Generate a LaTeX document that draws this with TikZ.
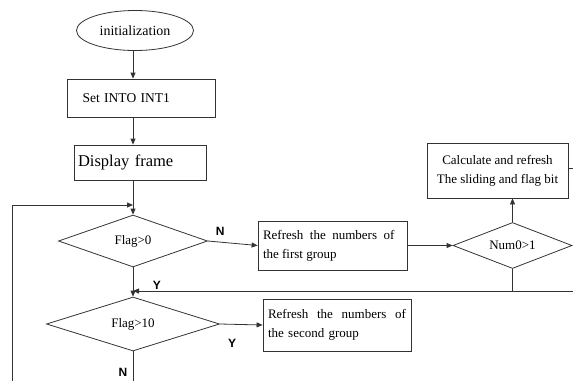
\documentclass[tikz,border=0pt]{standalone}
\usepackage{fontspec}
\setmainfont{Liberation Serif}
\newfontfamily\labfont{Liberation Sans}
\usetikzlibrary{shapes.geometric,arrows.meta}
\begin{document}
\begin{tikzpicture}[x=1pt,y=-1pt,
  line/.style={draw=black!80,line width=0.8pt},
  arr/.style={line,-{Triangle[length=6pt,width=5pt]}},
  txt/.style={font=\fontsize{13}{19}\selectfont},
  boxnode/.style={line,rectangle,inner sep=0pt,txt},
  dec/.style={line,diamond,aspect=3,inner sep=0pt,txt},
  lab/.style={font=\labfont\bfseries\fontsize{12}{12}\selectfont,inner sep=0pt}
]
\useasboundingbox (0,0) rectangle (573,381);
% nodes
\node[line,ellipse,minimum width=117pt,minimum height=40pt,inner sep=0pt,font=\fontsize{14}{16}\selectfont] (init) at (135,30.5) {initialization};
\node[boxnode,minimum width=133pt,minimum height=38pt,text width=118pt,align=left,inner xsep=15pt,font=\fontsize{13.5}{16}\selectfont] (set) at (141.5,98) {Set INTO INT1};
\node[boxnode,minimum width=132pt,minimum height=35pt,text width=124pt,align=left,inner xsep=4pt,font=\fontsize{16.5}{19}\selectfont] (disp) at (140,162.5) {Display frame};
\node[dec,minimum width=149pt,minimum height=52pt] (f0) at (133,241) {Flag>0};
\node[boxnode,minimum width=149pt,minimum height=49pt,text width=139pt,align=justify,inner xsep=5pt] (b1) at (332.5,245.5) {Refresh\ \ the\ \ numbers\ \ of\\ the first group};
\node[dec,minimum width=119pt,minimum height=46pt] (num) at (512.5,245.5) {Num0>1};
\node[boxnode,minimum width=141pt,minimum height=55pt,align=center] (calc) at (497.5,170.5) {Calculate and refresh\\The sliding and flag bit};
\node[dec,minimum width=173pt,minimum height=54pt] (f10) at (133,324) {Flag>10};
\node[boxnode,minimum width=148pt,minimum height=52pt,text width=138pt,align=left,inner xsep=5pt] (b2) at (337,325) {Refresh\ \ the\ \ numbers\ \ of\\ the second group};
% coordinates
\coordinate (top) at (133,205);
\coordinate (loopA) at (12,381);
\coordinate (loopB) at (12,205);
\coordinate (join) at (133,291);
\coordinate (numdown) at (512.5,291);
\coordinate (rightend) at (573,291);
\coordinate (calcout) at (573,168);
\coordinate (bottom) at (133,381);
% connectors
\draw[arr] (init.south -| top) -- (set.north -| top);
\draw[arr] (set.south -| top) -- (disp.north -| top);
\draw[arr] (disp.south -| top) -- (f0.north);
\draw[arr] (loopA) -- (loopB) -- (top);
\draw[arr] (f0.east) -- (b1.west) node[lab,pos=0.25,above=6pt] {N};
\draw[arr] (b1.east) -- (num.west);
\draw[arr] (num.north) -- (num.north |- calc.south);
\draw[line] (calc.east |- calcout) -- (calcout);
\draw[line] (num.south) -- (numdown);
\draw[arr] (rightend) -- (join);
\node[lab] (ylab1) at (157,285) {Y};
\draw[arr] (f0.south) -- (f10.north);
\draw[arr] (f10.east) -- (b2.west);
\node[lab] (ylab2) at (232,343) {Y};
\draw[line] (f10.south) -- (bottom);
\node[lab] (nlab2) at (123,372) {N};
\end{tikzpicture}
\end{document}
